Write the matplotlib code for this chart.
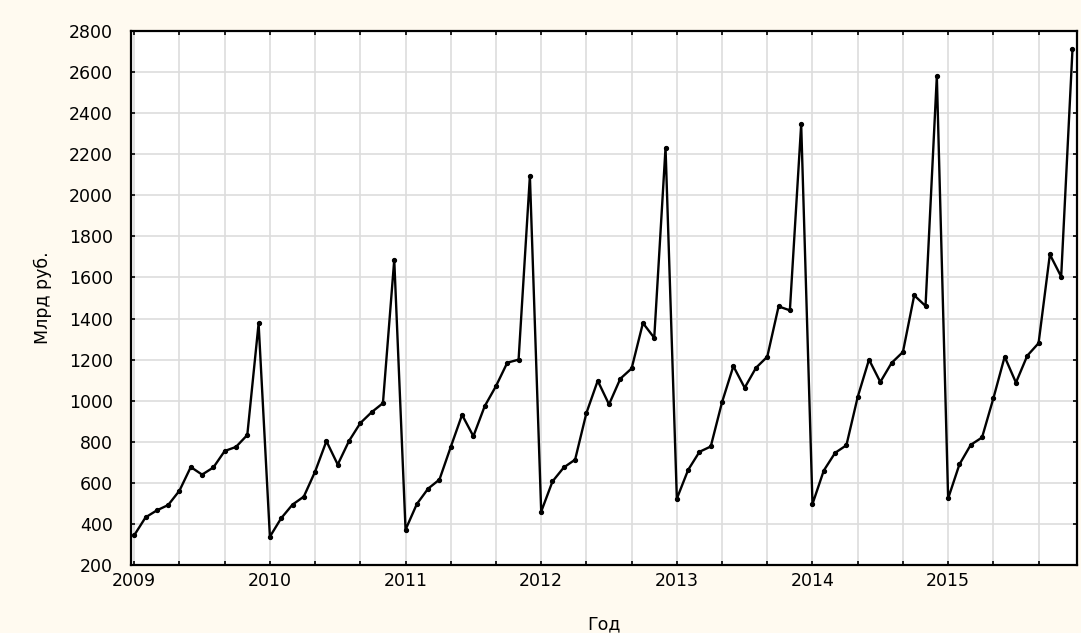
import matplotlib
matplotlib.use("Agg")
import matplotlib.pyplot as plt
import numpy as np

# monthly values, bln rub, Jan..Dec
v2009 = [345, 432, 466, 492, 562, 677, 640, 675, 755, 775, 833, 1376]
v2010 = [338, 428, 494, 533, 655, 803, 689, 804, 891, 944, 988, 1686]
v2011 = [372, 497, 572, 616, 775, 931, 827, 973, 1071, 1185, 1200, 2094]
v2012 = [460, 607, 675, 713, 940, 1097, 982, 1107, 1157, 1378, 1306, 2232]
v2013 = [523, 663, 751, 777, 993, 1168, 1063, 1160, 1214, 1459, 1440, 2346]
v2014 = [497, 660, 746, 783, 1018, 1200, 1091, 1184, 1237, 1513, 1461, 2580]
v2015 = [524, 690, 785, 821, 1011, 1214, 1088, 1219, 1280, 1712, 1604, 2710]

years = [2009, 2010, 2011, 2012, 2013, 2014, 2015]
months = list(range(1, 13))
series = [v2009, v2010, v2011, v2012, v2013, v2014, v2015]

y_ticks = list(range(200, 2801, 200))

x = np.array([y + (m - 1) / 12 for y in years for m in months])
vals = np.concatenate([np.array(s, dtype=float) for s in series])

fig = plt.figure(figsize=(10.81, 6.33), dpi=100, facecolor="#FFFAF0")
ax = fig.add_axes([131 / 1081, 68 / 633, 946 / 1081, 534 / 633])
ax.set_facecolor("white")

ax.plot(x, vals, color="black", lw=1.7, marker="o", ms=2.8,
        mfc="black", mec="black", zorder=3)

ax.set_xlim(2009 - 0.024, 2015.95)
ax.set_ylim(200, 2800)

xt = [2009 + k / 3 for k in range(21)]
ax.set_xticks(xt)
ax.set_xticklabels([str(int(round(t))) if abs(t - round(t)) < 1e-6 else "" for t in xt])
ax.set_yticks(y_ticks)
ax.set_yticklabels([str(t) for t in y_ticks])

ax.grid(True, color="#dddddd", lw=1.2, zorder=0)
ax.set_axisbelow(True)

for sp in ax.spines.values():
    sp.set_linewidth(1.6)
    sp.set_color("black")

ax.tick_params(direction="in", top=True, right=True, length=3, width=1.2,
               colors="black", labelsize=12.5, pad=5)
ax.tick_params(axis="y", pad=13)
for lab in ax.get_xticklabels() + ax.get_yticklabels():
    lab.set_family("DejaVu Sans")

ax.set_xlabel("Год", family="DejaVu Sans", fontsize=12.5, labelpad=18)
ax.set_ylabel("Млрд руб.", family=["Liberation Sans Narrow", "DejaVu Sans"],
              fontsize=12.5, labelpad=12)

fig.savefig("out.png", dpi=100, facecolor=fig.get_facecolor())
